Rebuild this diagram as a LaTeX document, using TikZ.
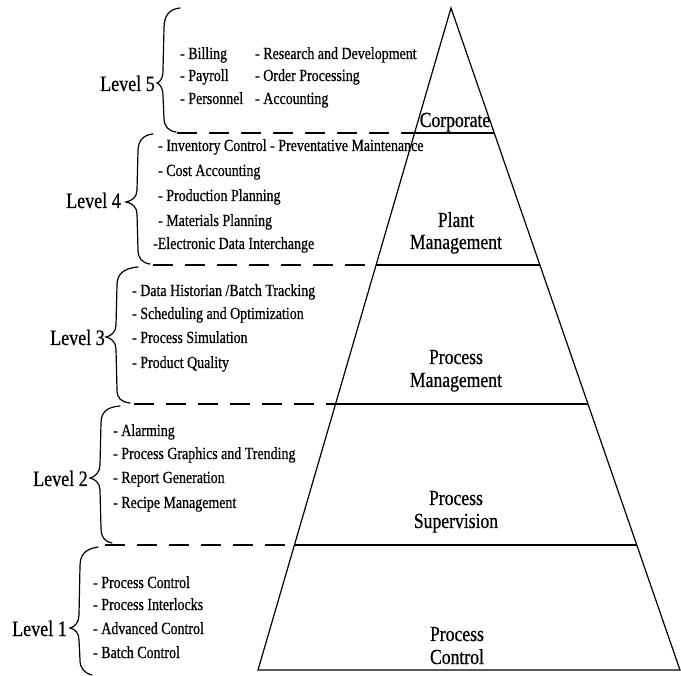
\documentclass[tikz,border=0pt]{standalone}
\usepackage{fontspec}
\setmainfont{Liberation Serif}[FakeStretch=0.82,FakeBold=0.6]
\begin{document}
\begin{tikzpicture}[x=1pt,y=-1pt,
  item/.style={font=\fontsize{17}{20}\selectfont, anchor=base west, inner sep=0pt},
  lvl/.style={font=\fontsize{22}{25}\selectfont, anchor=base west, inner sep=0pt},
  tier/.style={font=\fontsize{21.5}{24}\selectfont, anchor=base, inner sep=0pt},
  edgeline/.style={line width=1.2pt, line join=miter},
  sepline/.style={line width=1.8pt, dash pattern=on 20pt off 12pt},
  bracestroke/.style={line width=1.2pt, line cap=round}]
\useasboundingbox (0,0) rectangle (681,676);
% pyramid
\coordinate (A) at (451,8);
\coordinate (BL) at (258,670);
\coordinate (BR) at (680,670);
\coordinate (L5) at (414.6,133); \coordinate (R5) at (494.2,133);
\coordinate (L4) at (376.1,265); \coordinate (R4) at (539.9,265);
\coordinate (L3) at (335.5,404); \coordinate (R3) at (588.0,404);
\coordinate (L2) at (294.4,545); \coordinate (R2) at (636.8,545);
\draw[edgeline] (BL) -- (A) -- (BR) -- cycle;
\draw[edgeline] (L5) -- (R5);
\draw[edgeline] (L4) -- (R4);
\draw[edgeline] (L3) -- (R3);
\draw[edgeline] (L2) -- (R2);
% dashed separators
\coordinate (D5) at (177,133);
\coordinate (D4) at (153,265);
\coordinate (D3) at (134,404);
\coordinate (D2) at (105,545);
\draw[sepline] (D5) -- (L5);
\draw[sepline] (D4) -- (L4);
\draw[sepline] (D3) -- (L3);
\draw[sepline] (D2) -- (L2);
% braces
\draw[bracestroke] (180,8) .. controls (169,9) and (164,16) .. (164,28) -- (163,70)
  .. controls (163,79) and (160,82) .. (157,83) .. controls (160,84) and (163,88) .. (163,96)
  -- (164,118) .. controls (164,126) and (168,131) .. (176,132);
\draw[bracestroke] (153,134) .. controls (143,135) and (138,141) .. (138,151) -- (137,190)
  .. controls (137,197) and (132,201) .. (126,202) .. controls (132,203) and (137,207) .. (137,214)
  -- (138,250) .. controls (138,258) and (142,263) .. (150,264);
\draw[bracestroke] (138,267) .. controls (124,268) and (117,274) .. (117,285) -- (116,325)
  .. controls (116,332) and (111,336) .. (106,337) .. controls (111,338) and (116,342) .. (116,349)
  -- (117,390) .. controls (117,398) and (121,402) .. (130,403);
\draw[bracestroke] (120,406) .. controls (106,407) and (101,413) .. (101,423) -- (100,465)
  .. controls (100,472) and (95,477) .. (90,478) .. controls (95,479) and (100,483) .. (100,490)
  -- (101,528) .. controls (101,537) and (105,542) .. (112,543);
\draw[bracestroke] (98,547) .. controls (85,549) and (80,555) .. (80,566) -- (79,615)
  .. controls (79,622) and (75,627) .. (70,628) .. controls (75,629) and (79,633) .. (79,640)
  -- (80,660) .. controls (80,668) and (84,673) .. (92,675);
% level labels
\node[lvl] (lv5) at (100,91) {Level 5};
\node[lvl] (lv4) at (66,208) {Level 4};
\node[lvl] (lv3) at (50,345) {Level 3};
\node[lvl] (lv2) at (33,486) {Level 2};
\node[lvl] (lv1) at (12,636) {Level 1};
% level 5 items
\node[item] (a1) at (180,59) {- Billing};
\node[item] (a2) at (180,81) {- Payroll};
\node[item] (a3) at (180,104) {- Personnel};
\node[item] (a4) at (255,59) {- Research and Development};
\node[item] (a5) at (255,81) {- Order Processing};
\node[item] (a6) at (255,104) {- Accounting};
% level 4 items
\node[item] (b1) at (158,151) {- Inventory Control};
\node[item] (b2) at (270,151) {- Preventative Maintenance};
\node[item] (b3) at (158,176) {- Cost Accounting};
\node[item] (b4) at (158,201) {- Production Planning};
\node[item] (b5) at (158,226) {- Materials Planning};
\node[item] (b6) at (153,249) {-Electronic Data Interchange};
% level 3 items
\node[item] (c1) at (132,296) {- Data Historian /Batch Tracking};
\node[item] (c2) at (132,319) {- Scheduling and Optimization};
\node[item] (c3) at (132,343) {- Process Simulation};
\node[item] (c4) at (132,368) {- Product Quality};
% level 2 items
\node[item] (d1) at (113,436) {- Alarming};
\node[item] (d2) at (113,459) {- Process Graphics and Trending};
\node[item] (d3) at (113,483) {- Report Generation};
\node[item] (d4) at (113,508) {- Recipe Management};
% level 1 items
\node[item] (e1) at (93,588) {- Process Control};
\node[item] (e2) at (93,610) {- Process Interlocks};
\node[item] (e3) at (93,634) {- Advanced Control};
\node[item] (e4) at (93,658) {- Batch Control};
% tier labels
\node[tier] (t5) at (455,127) {Corporate};
\node[tier] (t4a) at (456,227) {Plant};
\node[tier] (t4b) at (456,249) {Management};
\node[tier] (t3a) at (456,364) {Process};
\node[tier] (t3b) at (456,387) {Management};
\node[tier] (t2a) at (456,505) {Process};
\node[tier] (t2b) at (456,528) {Supervision};
\node[tier] (t1a) at (457,641) {Process};
\node[tier] (t1b) at (457,664) {Control};
\end{tikzpicture}
\end{document}
